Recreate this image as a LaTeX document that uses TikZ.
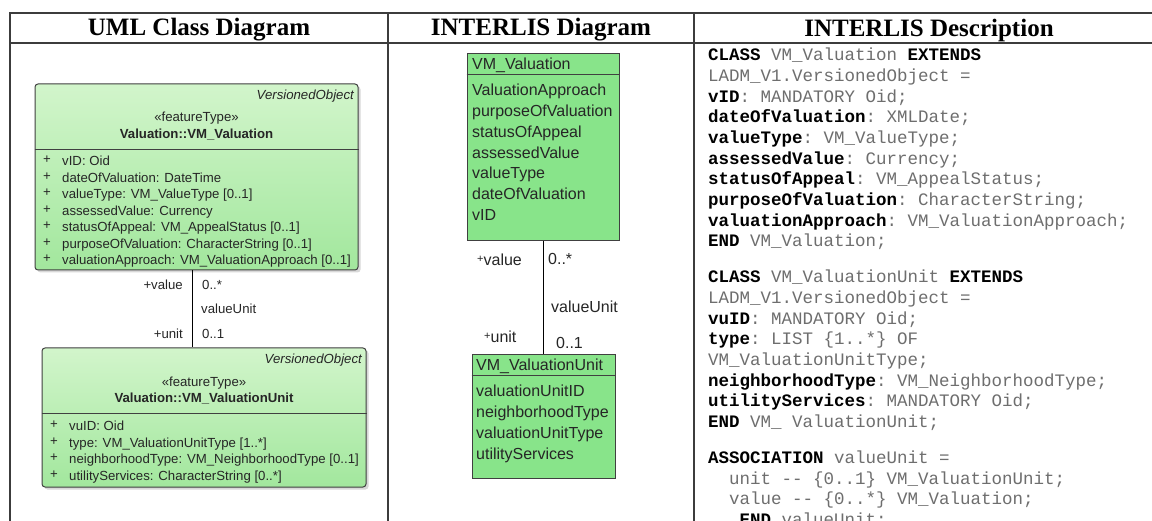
\documentclass[tikz,border=0pt]{standalone}
\usepackage{fontspec}
\setmainfont{Liberation Serif}
\setsansfont{Liberation Sans}
\setmonofont{Liberation Mono}
\usepackage{tikz}
\usetikzlibrary{positioning,shadows}

\definecolor{umltop}{HTML}{D2F5CB}
\definecolor{umlbot}{HTML}{A2E79D}
\definecolor{iligreen}{HTML}{88E48A}
\definecolor{codegray}{HTML}{6E6E6E}
\definecolor{rulegray}{HTML}{3C3C3C}

\newcommand{\kw}[1]{\textbf{\color{black}#1}}
\newcommand{\upplus}{{\fontsize{11}{11}\selectfont\raisebox{3pt}{+}}}

\tikzset{
  rule/.style={draw=rulegray, line width=1.8pt},
  head/.style={font=\bfseries\fontsize{25}{28}\selectfont, inner sep=0pt},
  umlbox/.style={draw=black!75, line width=1pt, rounded corners=3pt,
    top color=umltop, bottom color=umlbot,
    drop shadow={shadow xshift=2.5pt, shadow yshift=-2.5pt, fill=black!30}},
  divider/.style={draw=black!75, line width=1pt},
  umltxt/.style={font=\sffamily\fontsize{13.2}{16.5}\selectfont, text=black!85, inner sep=0pt},
  umlattr/.style={umltxt, align=left, anchor=north west},
  ilibox/.style={draw=black!75, line width=1pt, fill=iligreen},
  ilitxt/.style={font=\sffamily\fontsize{16}{20.8}\selectfont, text=black!85, inner sep=0pt},
  iliattr/.style={ilitxt, align=left, anchor=north west},
  link/.style={draw=black, line width=1pt},
  code/.style={font=\ttfamily\fontsize{17.5}{20.65}\selectfont, text=codegray,
    align=left, anchor=north west, inner sep=0pt}
}

\begin{document}
\begin{tikzpicture}[x=1pt,y=-1pt]
\useasboundingbox[fill=white] (0,0) rectangle (1152,521);

% table
\draw[rule] (10,521) -- (10,13) -- (1152,13);
\draw[rule] (10,43) -- (1152,43);
\draw[rule] (388,13) -- (388,521);
\draw[rule] (694,13) -- (694,521);

\node[head] (hUml) at (199,30) {UML Class Diagram};
\node[head] (hIli) at (541,30) {INTERLIS Diagram};
\node[head] (hDesc) at (929,30) {INTERLIS Description};

% UML class diagram
\node[umlbox, minimum width=323, minimum height=186] (umlA) at (196.5,177) {};
\draw[divider] (umlA.west |- 0,150) -- (umlA.east |- 0,150);
\node[umltxt, anchor=east, font=\sffamily\itshape\fontsize{13.2}{15}\selectfont] (umlAext) at (354,96) {VersionedObject};
\node[umltxt] (umlAster) at (196.5,118) {«featureType»};
\node[umltxt, font=\sffamily\bfseries\fontsize{13.2}{15}\selectfont] (umlAname) at (196.5,135) {Valuation::VM\_Valuation};
\node[umlattr] (umlAplus) at (43,156) {+\\+\\+\\+\\+\\+\\+};
\node[umlattr] (umlAattr) at (62,156) {vID: Oid\\dateOfValuation: DateTime\\valueType: VM\_ValueType [0..1]\\assessedValue: Currency\\statusOfAppeal: VM\_AppealStatus [0..1]\\purposeOfValuation: CharacterString [0..1]\\valuationApproach: VM\_ValuationApproach [0..1]};

\node[umlbox, minimum width=324, minimum height=139] (umlB) at (204,417.5) {};
\draw[divider] (umlB.west |- 0,414) -- (umlB.east |- 0,414);
\node[umltxt, anchor=east, font=\sffamily\itshape\fontsize{13.2}{15}\selectfont] (umlBext) at (362,360) {VersionedObject};
\node[umltxt] (umlBster) at (204,383) {«featureType»};
\node[umltxt, font=\sffamily\bfseries\fontsize{13.2}{15}\selectfont] (umlBname) at (204,399) {Valuation::VM\_ValuationUnit};
\node[umlattr] (umlBplus) at (50,421) {+\\+\\+\\+};
\node[umlattr] (umlBattr) at (69,421) {vuID: Oid\\type: VM\_ValuationUnitType [1..*]\\neighborhoodType: VM\_NeighborhoodType [0..1]\\utilityServices: CharacterString [0..*]};

\coordinate (umlLink) at (192,0);
\draw[link] (umlA.south -| umlLink) -- (umlB.north -| umlLink);
\node[umltxt, anchor=east] (umlRoleA) at (183,285) {+value};
\node[umltxt, anchor=west] (umlMultA) at (202,285) {0..*};
\node[umltxt, anchor=west] (umlAssoc) at (201,309) {valueUnit};
\node[umltxt, anchor=east] (umlRoleB) at (183,334) {+unit};
\node[umltxt, anchor=west] (umlMultB) at (202,334) {0..1};

% INTERLIS diagram
\node[ilibox, minimum width=152, minimum height=187] (iliA) at (543,147.5) {};
\draw[ilibox] (iliA.west |- 0,75) -- (iliA.east |- 0,75);
\node[ilitxt, anchor=west] (iliAname) at (472,65) {VM\_Valuation};
\node[iliattr] (iliAattr) at (472,84) {ValuationApproach\\purposeOfValuation\\statusOfAppeal\\assessedValue\\valueType\\dateOfValuation\\vID};

\node[ilibox, minimum width=143, minimum height=123] (iliB) at (543.5,416.5) {};
\draw[ilibox] (iliB.west |- 0,376) -- (iliB.east |- 0,376);
\node[ilitxt, anchor=west] (iliBname) at (476,366) {VM\_ValuationUnit};
\node[iliattr] (iliBattr) at (476,385) {valuationUnitID\\neighborhoodType\\valuationUnitType\\utilityServices};

\draw[link] (iliA.south) -- (iliA.south |- iliB.north);
\node[ilitxt, anchor=west] (iliRoleA) at (477,260) {\upplus value};
\node[ilitxt, anchor=west] (iliMultA) at (548,259) {0..*};
\node[ilitxt, anchor=west] (iliAssoc) at (551,307) {valueUnit};
\node[ilitxt, anchor=west] (iliRoleB) at (484,337) {\upplus unit};
\node[ilitxt, anchor=west] (iliMultB) at (556,343) {0..1};

% INTERLIS description
\node[code] (codeA) at (708,48) {\kw{CLASS} VM\_Valuation \kw{EXTENDS}\\
LADM\_V1.VersionedObject =\\
\kw{vID}: MANDATORY Oid;\\
\kw{dateOfValuation}: XMLDate;\\
\kw{valueType}: VM\_ValueType;\\
\kw{assessedValue}: Currency;\\
\kw{statusOfAppeal}: VM\_AppealStatus;\\
\kw{purposeOfValuation}: CharacterString;\\
\kw{valuationApproach}: VM\_ValuationApproach;\\
\kw{END} VM\_Valuation;};
\node[code, below=20pt of codeA.south west, anchor=north west] (codeB) {\kw{CLASS} VM\_ValuationUnit \kw{EXTENDS}\\
LADM\_V1.VersionedObject =\\
\kw{vuID}: MANDATORY Oid;\\
\kw{type}: LIST \{1..*\} OF\\
VM\_ValuationUnitType;\\
\kw{neighborhoodType}: VM\_NeighborhoodType;\\
\kw{utilityServices}: MANDATORY Oid;\\
\kw{END} VM\_ ValuationUnit;};
\node[code, below=20pt of codeB.south west, anchor=north west] (codeC) {\kw{ASSOCIATION} valueUnit =\\
\phantom{xx}unit -{}- \{0..1\} VM\_ValuationUnit;\\
\phantom{xx}value -{}- \{0..*\} VM\_Valuation;\\
\phantom{xxx}\kw{END} valueUnit;};
\end{tikzpicture}
\end{document}
